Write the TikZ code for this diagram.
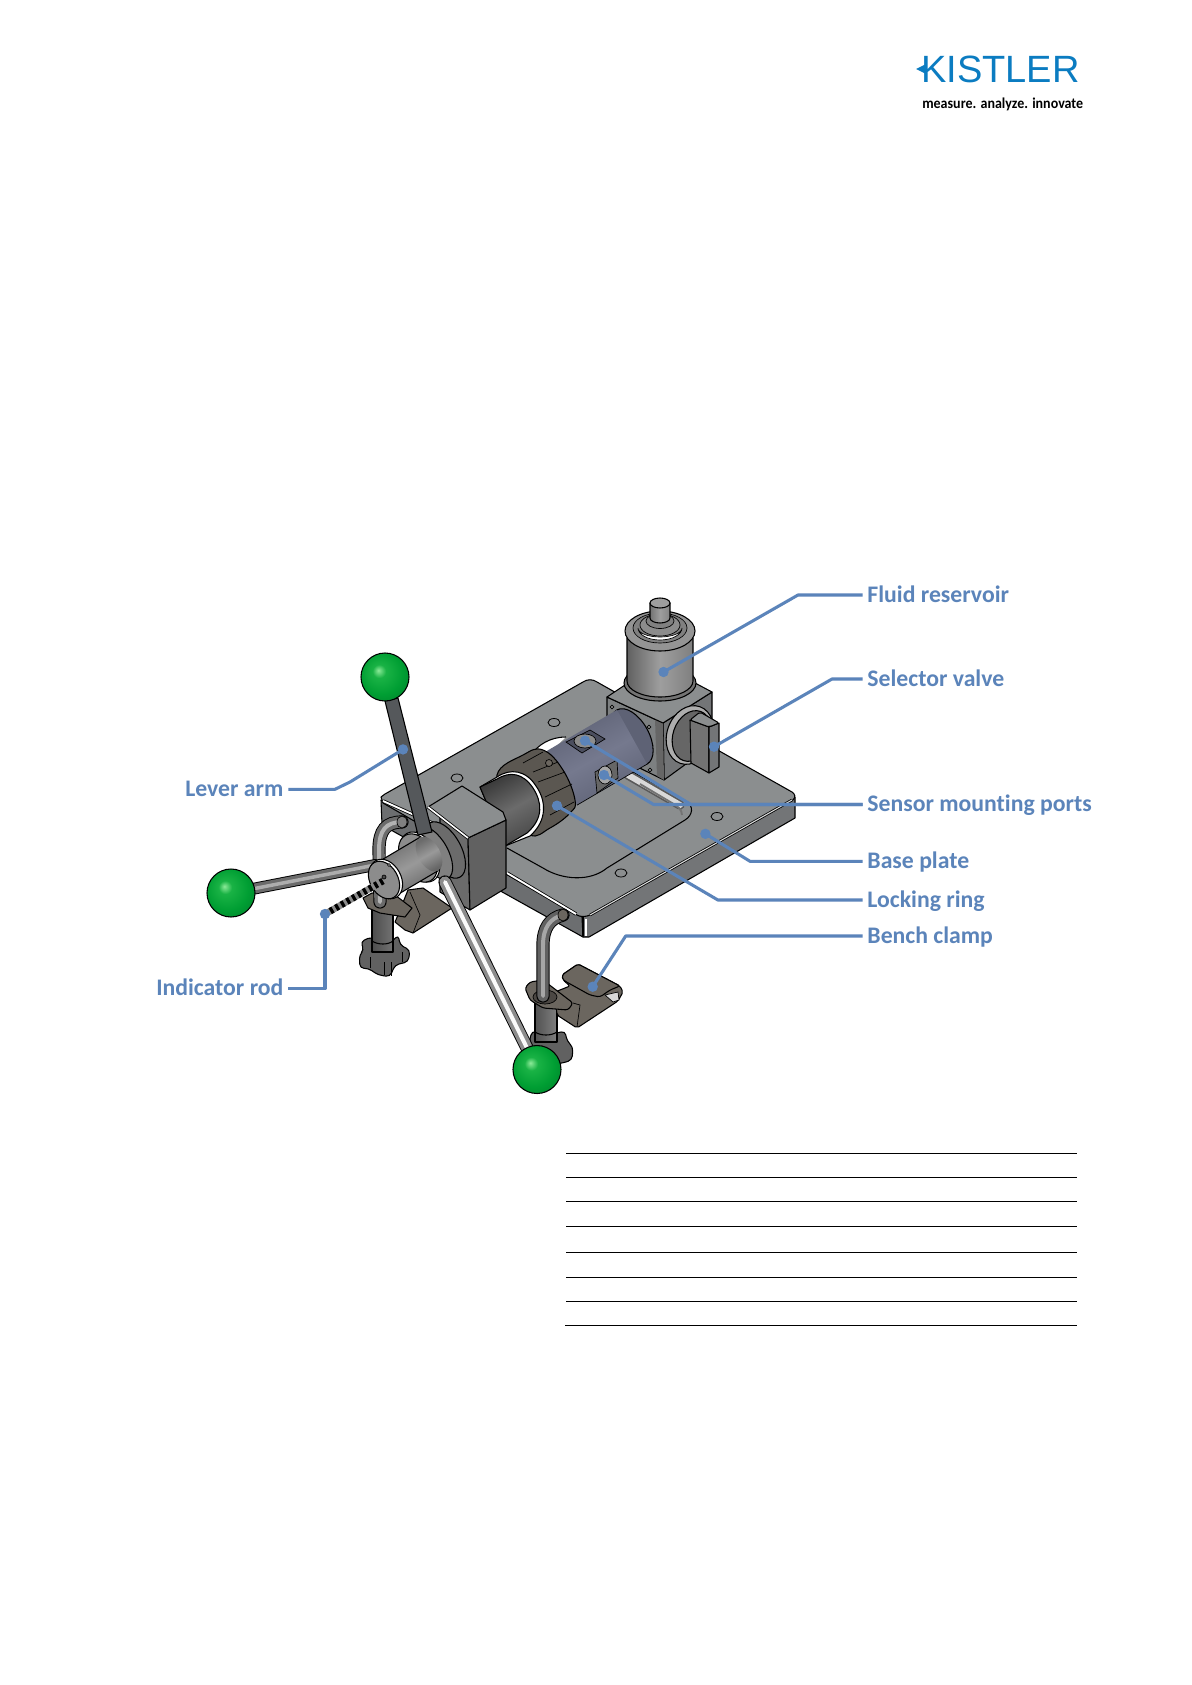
\documentclass[tikz,border=0pt]{standalone}
\usepackage{fontspec}
\setmainfont[Ligatures=NoCommon]{Carlito}
\newfontfamily\logofont{Liberation Sans}
\usetikzlibrary{calc}
\definecolor{leader}{HTML}{5B84BA}
\definecolor{logoblue}{HTML}{0B7CC1}
\definecolor{ptop}{HTML}{8B8E8F}
\definecolor{pleft}{HTML}{6C6E70}
\definecolor{pright}{HTML}{737577}
\definecolor{clipc}{HTML}{6B665F}
\definecolor{darkc}{HTML}{55585B}
\definecolor{purA}{HTML}{5E6275}
\definecolor{purB}{HTML}{75798E}
\pgfdeclareradialshading{gball}{\pgfpoint{-7bp}{7bp}}{
  rgb(0bp)=(0.55,0.92,0.6); rgb(7bp)=(0.1,0.70,0.27); rgb(22bp)=(0,0.62,0.2); rgb(40bp)=(0,0.47,0.16); rgb(50bp)=(0,0.36,0.12)}
\tikzset{
  labeltext/.style={text=leader,font=\fontsize{17.8pt}{20pt}\selectfont\bfseries,inner sep=3.5pt,text height=14.5pt,text depth=4pt},
  leaderline/.style={draw=leader,line width=2.3pt,line join=round},
  dotn/.style={circle,fill=leader,inner sep=0pt,minimum size=7.8pt},
  edge/.style={draw=black,line width=0.8pt,line join=round},
  thin edge/.style={draw=black,line width=0.5pt},
  rule/.style={draw=black,line width=0.8pt},
  ball/.style={shading=gball,draw=black,line width=0.8pt},
  hole/.style={fill=ptop,draw=black,line width=0.6pt},
}
% iso ellipse: x y minor major options
\newcommand{\isoell}[5]{\path[#5,shift={(#1,#2)},rotate=29] (0,0) ellipse [x radius=#3,y radius=#4];}
% cylinder side: x1 y1 x2 y2 r options
\newcommand{\isocyl}[6]{\path[#6] ($(#1,#2)+#5*(0.485,0.875)$) -- ($(#3,#4)+#5*(0.485,0.875)$) -- ($(#3,#4)-#5*(0.485,0.875)$) -- ($(#1,#2)-#5*(0.485,0.875)$) -- cycle;}
\newcommand{\rodpath}[4]{\draw[line width=#4pt+1.4pt,black,line cap=round] #1; \draw[line width=#4pt,#2,line cap=round] #1; \draw[line width=0.35*#4pt,#3,line cap=round] #1;}
\begin{document}
\begin{tikzpicture}[x=0.75pt,y=-0.75pt]
\useasboundingbox (0,0) rectangle (1192,1685);
\fill[white] (0,0) rectangle (1192,1685);

% ---------- logo
\node[text=logoblue,font=\logofont\fontsize{28.5pt}{30pt}\selectfont,inner sep=0pt,anchor=west] (logo) at (921,69) {KISTLER};
\fill[logoblue] (916,69) -- (925,64.5) -- (925,73.5) -- cycle;
\node[font=\fontsize{11.3pt}{13pt}\selectfont\bfseries,inner sep=0pt,anchor=west] (tag) at (922,104) {\scalebox{0.93}[1]{measure. analyze. innovate}};

% ---------- rules of the table
\foreach \yy in {1153.3,1177.3,1201.3,1226.3,1252.3,1277.3,1301.3}
  \draw[rule] (566,\yy) -- (1077,\yy);
\draw[rule] (565,1325.3) -- (1077,1325.3);

% ---------- base plate
\path[edge,fill=pleft] (381,800) -- (382,825) -- (583,937) -- (583,917) -- cycle;
\path[edge,fill=pright] (582,917) -- (583,937) -- (589,937) -- (795,818) -- (795,797) -- cycle;
\path[edge,fill=ptop] (381,797) -- (385,794) -- (583,682) .. controls (587,679) and (593,679) .. (597,682) -- (792,792) .. controls (795,794) and (796,797) .. (793,800) -- (590,915) .. controls (586,917) and (580,917) .. (577,915) -- (383,803) -- cycle;
\draw[line width=2.6pt,black] (383,801) -- (470,840);
\draw[line width=1.4pt,white] (383,801) -- (470,840);
\draw[line width=2.6pt,black] (507,873) -- (576,914);
\draw[line width=1.4pt,white] (507,873) -- (576,914);
\draw[line width=2pt,black] (590,915) -- (792,800);
\draw[line width=0.8pt,white!70!ptop] (590,915) -- (792,800);
\draw[edge] (583,917) -- (583,936);
\draw[line width=0.9pt,white] (586,919) -- (586,936);

% recess in the plate
\draw[edge] (507,848) -- (543,868) .. controls (562,880) and (590,882) .. (607,868) -- (685,820) .. controls (693,815) and (694,806) .. (686,801) -- (633,772);
\path[fill=white] (532,754) .. controls (538,745) and (550,737) .. (566,737) -- (552,750) -- cycle;
\draw[edge] (532,754) .. controls (538,745) and (550,737) .. (566,737);
\draw[line width=7pt,black!65,line cap=round] (628,775) -- (680,805);
\draw[line width=4.5pt,white!85!black,line cap=round] (628,775) -- (680,805);
\draw[line width=1.4pt,black!55] (640,784) -- (672,803) .. controls (678,806) and (682,810) .. (682,815);

% plate holes
\foreach \hx/\hy in {554/722.5,457/778,621/873,717/816.5}
  \path[hole] (\hx,\hy) ellipse [x radius=6,y radius=4];

% ---------- valve block
\path[edge,fill=pright] (663,723) -- (712,692) -- (712,745) -- (664,780) -- cycle;
\path[edge,fill=ptop!90!black] (607,697) -- (663,723) -- (664,780) -- (607,752) -- cycle;
\path[fill=black!60] (655,719) -- (663,723) -- (664,780) -- (657,776) -- cycle;
\path[edge,fill=ptop] (607,697) -- (625,685) -- (695,683) -- (712,692) -- (663,723) -- cycle;
\foreach \hx/\hy in {612/707,649/727,650/770}
  \path[thin edge,fill=black!40] (\hx,\hy) circle [radius=1.8];

% ---------- reservoir
\path[edge,fill=black!55] (660,683) ellipse [x radius=36,y radius=18];
\path[edge,left color=black!62,right color=black!50,middle color=black!38] (627,638) -- (627,681) arc [start angle=180,end angle=0,x radius=33,y radius=16] -- (693,638) -- cycle;
\path[edge,fill=black!42] (660,631) ellipse [x radius=35,y radius=20];
\path[thin edge,fill=black!50] (660,628) ellipse [x radius=27,y radius=15];
\path[thin edge,fill=white] (638,628) arc [start angle=180,end angle=0,x radius=22,y radius=12] arc [start angle=0,end angle=180,x radius=22,y radius=9] -- cycle;
\path[thin edge,fill=black!45] (660,625) ellipse [x radius=20,y radius=11];
\path[thin edge,fill=black!50] (660,621) ellipse [x radius=14,y radius=7.5];
\path[edge,left color=black!55,right color=black!48,middle color=black!38] (650,603) -- (650,618) arc [start angle=180,end angle=0,x radius=10,y radius=5] -- (670,603) -- cycle;
\path[edge,fill=black!38] (660,603) ellipse [x radius=10,y radius=5];

% ---------- selector valve
\path[edge,fill=black!32,rotate around={-19:(690,735)}] (690,735) ellipse [x radius=23,y radius=30];
\path[edge,fill=black!60,rotate around={-19:(692,736)}] (692,736) ellipse [x radius=19,y radius=26];
\path[edge,fill=black!55] (690,720) -- (709,727) -- (709,773) -- (691,763) -- cycle;
\path[edge,fill=pright] (709,727) -- (719,723) -- (719,767) -- (709,773) -- cycle;
\path[edge,fill=ptop,rounded corners=1.5pt] (690,720) -- (700,712) -- (719,723) -- (709,727) -- cycle;

% ---------- purple cylinder
\isoell{632}{737}{17}{31}{edge,fill=purA}
\isocyl{562}{778}{632}{737}{31}{top color=purA,bottom color=purA,middle color=purB,shading angle=29}
\draw[edge,line width=0.5pt] ($(562,778)+31*(0.485,0.875)$) -- ($(632,737)+31*(0.485,0.875)$);
% ports
\path[thin edge,fill=purA!80!black] (566,742) -- (590,730) -- (605,739) -- (582,753) -- cycle;
\path[thin edge,fill=black!45] (585,741) ellipse [x radius=11,y radius=7];
\path[thin edge,fill=black!60] (595,772) -- (617,760) -- (618,778) -- (597,793) -- cycle;
\path[thin edge,fill=black!35] (605,775) ellipse [x radius=7,y radius=9];

% ---------- locking ring
\path[edge,fill=clipc!85!black] plot [smooth cycle,tension=0.7] coordinates {(497,775) (523,755) (543,750) (563,770) (575,800) (570,813) (550,828) (530,835) (510,810)};
\draw[thin edge] (523,763) -- (543,752);
\draw[thin edge] (533,772) -- (558,762);
\draw[thin edge] (538,782) -- (565,772);
\draw[thin edge] (545,797) -- (572,784);
\draw[thin edge] (550,815) -- (574,802);
\path[thin edge,fill=clipc] (549,763) circle [radius=3.5];

% ---------- dark cylinder, with its bright rim
\path[edge,fill=white] (480,787) -- (497,777) .. controls (510,768) and (526,770) .. (536,786) .. controls (546,800) and (548,820) .. (530,836) -- (505,846) -- cycle;
\path[edge,top color=black!78,bottom color=black!72,middle color=black!58,shading angle=29] (480,787) -- (497,779) .. controls (510,771) and (523,773) .. (533,788) .. controls (542,802) and (544,818) .. (527,833) -- (505,846) -- cycle;

% ---------- left clamp
\path[edge,fill=clipc,line join=round] (408,890) -- (423,888) -- (452,908) -- (413,933) -- (405,930) -- (395,922) -- (398,915) -- cycle;
\draw[thin edge] (410,892) -- (420,915) -- (413,933);
\path[edge,fill=black!62,rounded corners=3pt] (360.7,941.7) -- (371.7,936.7) -- (378.3,945) -- (390,943.3) -- (398.3,935) -- (400,945) -- (410,950) -- (408.3,961.7) -- (395,965) -- (390,976.7) -- (378.3,975) -- (368.3,968.3) -- (360,968.3) -- (359.3,955) -- (364,950) -- cycle;
\foreach \kx/\ky/\kz in {370/957/968,384/962/975,391/962/976,402/952/962}
  \draw[thin edge] (\kx,\ky) -- (\kx,\kz);
\path[edge,left color=black!70,right color=black!55] (372,908) rectangle (393,952);
\draw[edge] (372,941) .. controls (378,945) and (388,945) .. (393,941);
\path[edge,fill=clipc] (363,898) -- (372,893) -- (395,895) -- (412,908) -- (405,917) -- (380,913) -- (368,908) -- cycle;
\rodpath{(402,822) .. controls (386,822) and (379,830) .. (379,850) -- (380,902)}{black!58}{black!30}{8.5}
\path[thin edge,fill=black!50] (402,822) ellipse [x radius=5,y radius=6];

% ---------- right clamp
\path[edge,fill=black!62,rounded corners=3pt] (530,1035) -- (535,1030) -- (543,1035) -- (557,1033) -- (565,1031) -- (567,1041) -- (573,1047) -- (572,1060) -- (563,1063) -- (545,1065) -- (530,1060) -- cycle;
\path[edge,left color=black!68,right color=black!50] (535,1000) rectangle (557,1042);
\draw[edge] (535,1032) .. controls (541,1036) and (551,1036) .. (557,1032);
\path[edge,fill=clipc,rounded corners=1.5pt] (557,1015) -- (577,1028) -- (618,1001) -- (623,992) -- (620,986) -- (578,964) -- (562,975) -- (563,980) -- (570,986) -- (555,992) -- cycle;
\draw[thin edge] (573,1003) -- (580,1005) -- (577,1027);
\path[thin edge,fill=black!15] (605,995) -- (618,992) -- (619,1000) -- (613,1002) -- cycle;
\path[edge,fill=clipc,rounded corners=2pt] (562,975) -- (578,964) -- (620,986) -- (610,990) -- (600,997) -- (590,995) -- (563,980) -- cycle;
\path[edge,fill=clipc,rounded corners=2pt] (525,988) -- (530,982) -- (543,980) -- (573,1003) -- (568,1010) -- (543,1008) -- (530,1000) -- cycle;
\path[thin edge,fill=clipc!70!black] (545,997) ellipse [x radius=12,y radius=7];
\rodpath{(563,915) .. controls (550,918) and (543,928) .. (543,945) -- (543,996)}{black!62}{black!35}{8.5}
\path[thin edge,fill=clipc] (563,915) ellipse [x radius=5,y radius=6];

% ---------- hub block
\path[edge,fill=black!58] (440,817) -- (468,838) -- (470,910) -- (440,892) -- cycle;
\path[edge,fill=black!62] (468,838) -- (506,820) -- (506,888) -- (470,910) -- cycle;
\path[edge,fill=ptop] (428,807) -- (462,786) -- (503,812) -- (506,820) -- (468,838) -- cycle;
\draw[line width=2.4pt,black] (428,807) -- (468,838);
\draw[line width=1.2pt,white] (428,807) -- (468,838);

% ---------- hub collars
\isoell{445}{850}{16}{31}{edge,fill=black!58}
\isoell{434}{853}{14}{29}{edge,fill=black!50}
\isoell{420}{857}{17}{27}{edge,fill=white}
\isoell{418}{858}{17}{26}{edge,fill=black!45}
% left lever, behind the front cylinder
\rodpath{(247,890) -- (375,865)}{black!58}{black!32}{7.5}
\isocyl{385}{880}{429}{854}{19}{edge,top color=black!58,bottom color=black!60,middle color=black!40,shading angle=29}
\isoell{429}{854}{11}{19}{top color=black!58,bottom color=black!60,middle color=black!40,shading angle=29}
\isoell{386}{879}{15}{21}{edge,fill=white}
\isoell{384}{880}{14}{20}{edge,fill=black!45}
\path[thin edge,fill=black!70] (384,877) circle [radius=2];
\path[thin edge,fill=black!30] (389,865) circle [radius=1.5];

% ---------- levers
\path[edge,fill=darkc] (385,701) -- (398,698) -- (432,832) -- (418,835) -- cycle;
\rodpath{(445,882) -- (528,1050)}{black!45}{black!2}{8.5}
% indicator rod
\draw[line width=5pt,black!45] (383,881) -- (327,913);
\draw[line width=5pt,black,dash pattern=on 2.4pt off 2.4pt] (383,881) -- (327,913);

% ---------- balls
\node[ball,circle,minimum size=36pt,inner sep=0pt] (ballA) at (385,677) {};
\node[ball,circle,minimum size=36pt,inner sep=0pt] (ballB) at (231,893) {};
\node[ball,circle,minimum size=36pt,inner sep=0pt] (ballC) at (537,1069.5) {};

% ---------- labels
\node[labeltext,anchor=west] (fluid) at (862.5,595) {Fluid reservoir};
\node[labeltext,anchor=west] (selector) at (862.5,679) {Selector valve};
\node[labeltext,anchor=west] (sensor) at (862.5,804.5) {Sensor mounting ports};
\node[labeltext,anchor=west] (base) at (862.5,861.3) {Base plate};
\node[labeltext,anchor=west] (lockr) at (862.5,900) {Locking ring};
\node[labeltext,anchor=west] (bench) at (862.5,936) {Bench clamp};
\node[labeltext,anchor=east] (lever) at (288.3,789.3) {Lever arm};
\node[labeltext,anchor=east] (indic) at (288.3,988.7) {Indicator rod};

% ---------- leaders
\node[dotn] (dF) at (663.5,672) {};
\node[dotn] (dV) at (714,746.7) {};
\node[dotn] (dP1) at (585,740.7) {};
\node[dotn] (dP2) at (604,775) {};
\node[dotn] (dB) at (705.4,833.8) {};
\node[dotn] (dR) at (557,805.7) {};
\node[dotn] (dC) at (592.7,986.7) {};
\node[dotn] (dL) at (403,749.4) {};
\node[dotn] (dI) at (325,914) {};
\coordinate (kF) at (798,595);
\coordinate (kV) at (832,679);
\coordinate (kP1) at (691,804.5);
\coordinate (kP2) at (653.6,804.5);
\coordinate (kB) at (750,861.3);
\coordinate (kR) at (717.9,900);
\coordinate (kC) at (625.7,936);
\coordinate (kL1) at (350,782);
\coordinate (kL2) at (335,789.3);
\coordinate (kI) at (325,988.7);
\draw[leaderline] (dF.center) -- (kF) -- (fluid.west);
\draw[leaderline] (dV.center) -- (kV) -- (selector.west);
\draw[leaderline] (dP1.center) -- (kP1) -- (sensor.west);
\draw[leaderline] (dP2.center) -- (kP2) -- (sensor.west);
\draw[leaderline] (dB.center) -- (kB) -- (base.west);
\draw[leaderline] (dR.center) -- (kR) -- (lockr.west);
\draw[leaderline] (dC.center) -- (kC) -- (bench.west);
\draw[leaderline] (dL.center) -- (kL1) -- (kL2) -- (lever.east);
\draw[leaderline] (dI.center) -- (kI) -- (indic.east);
\end{tikzpicture}
\end{document}
